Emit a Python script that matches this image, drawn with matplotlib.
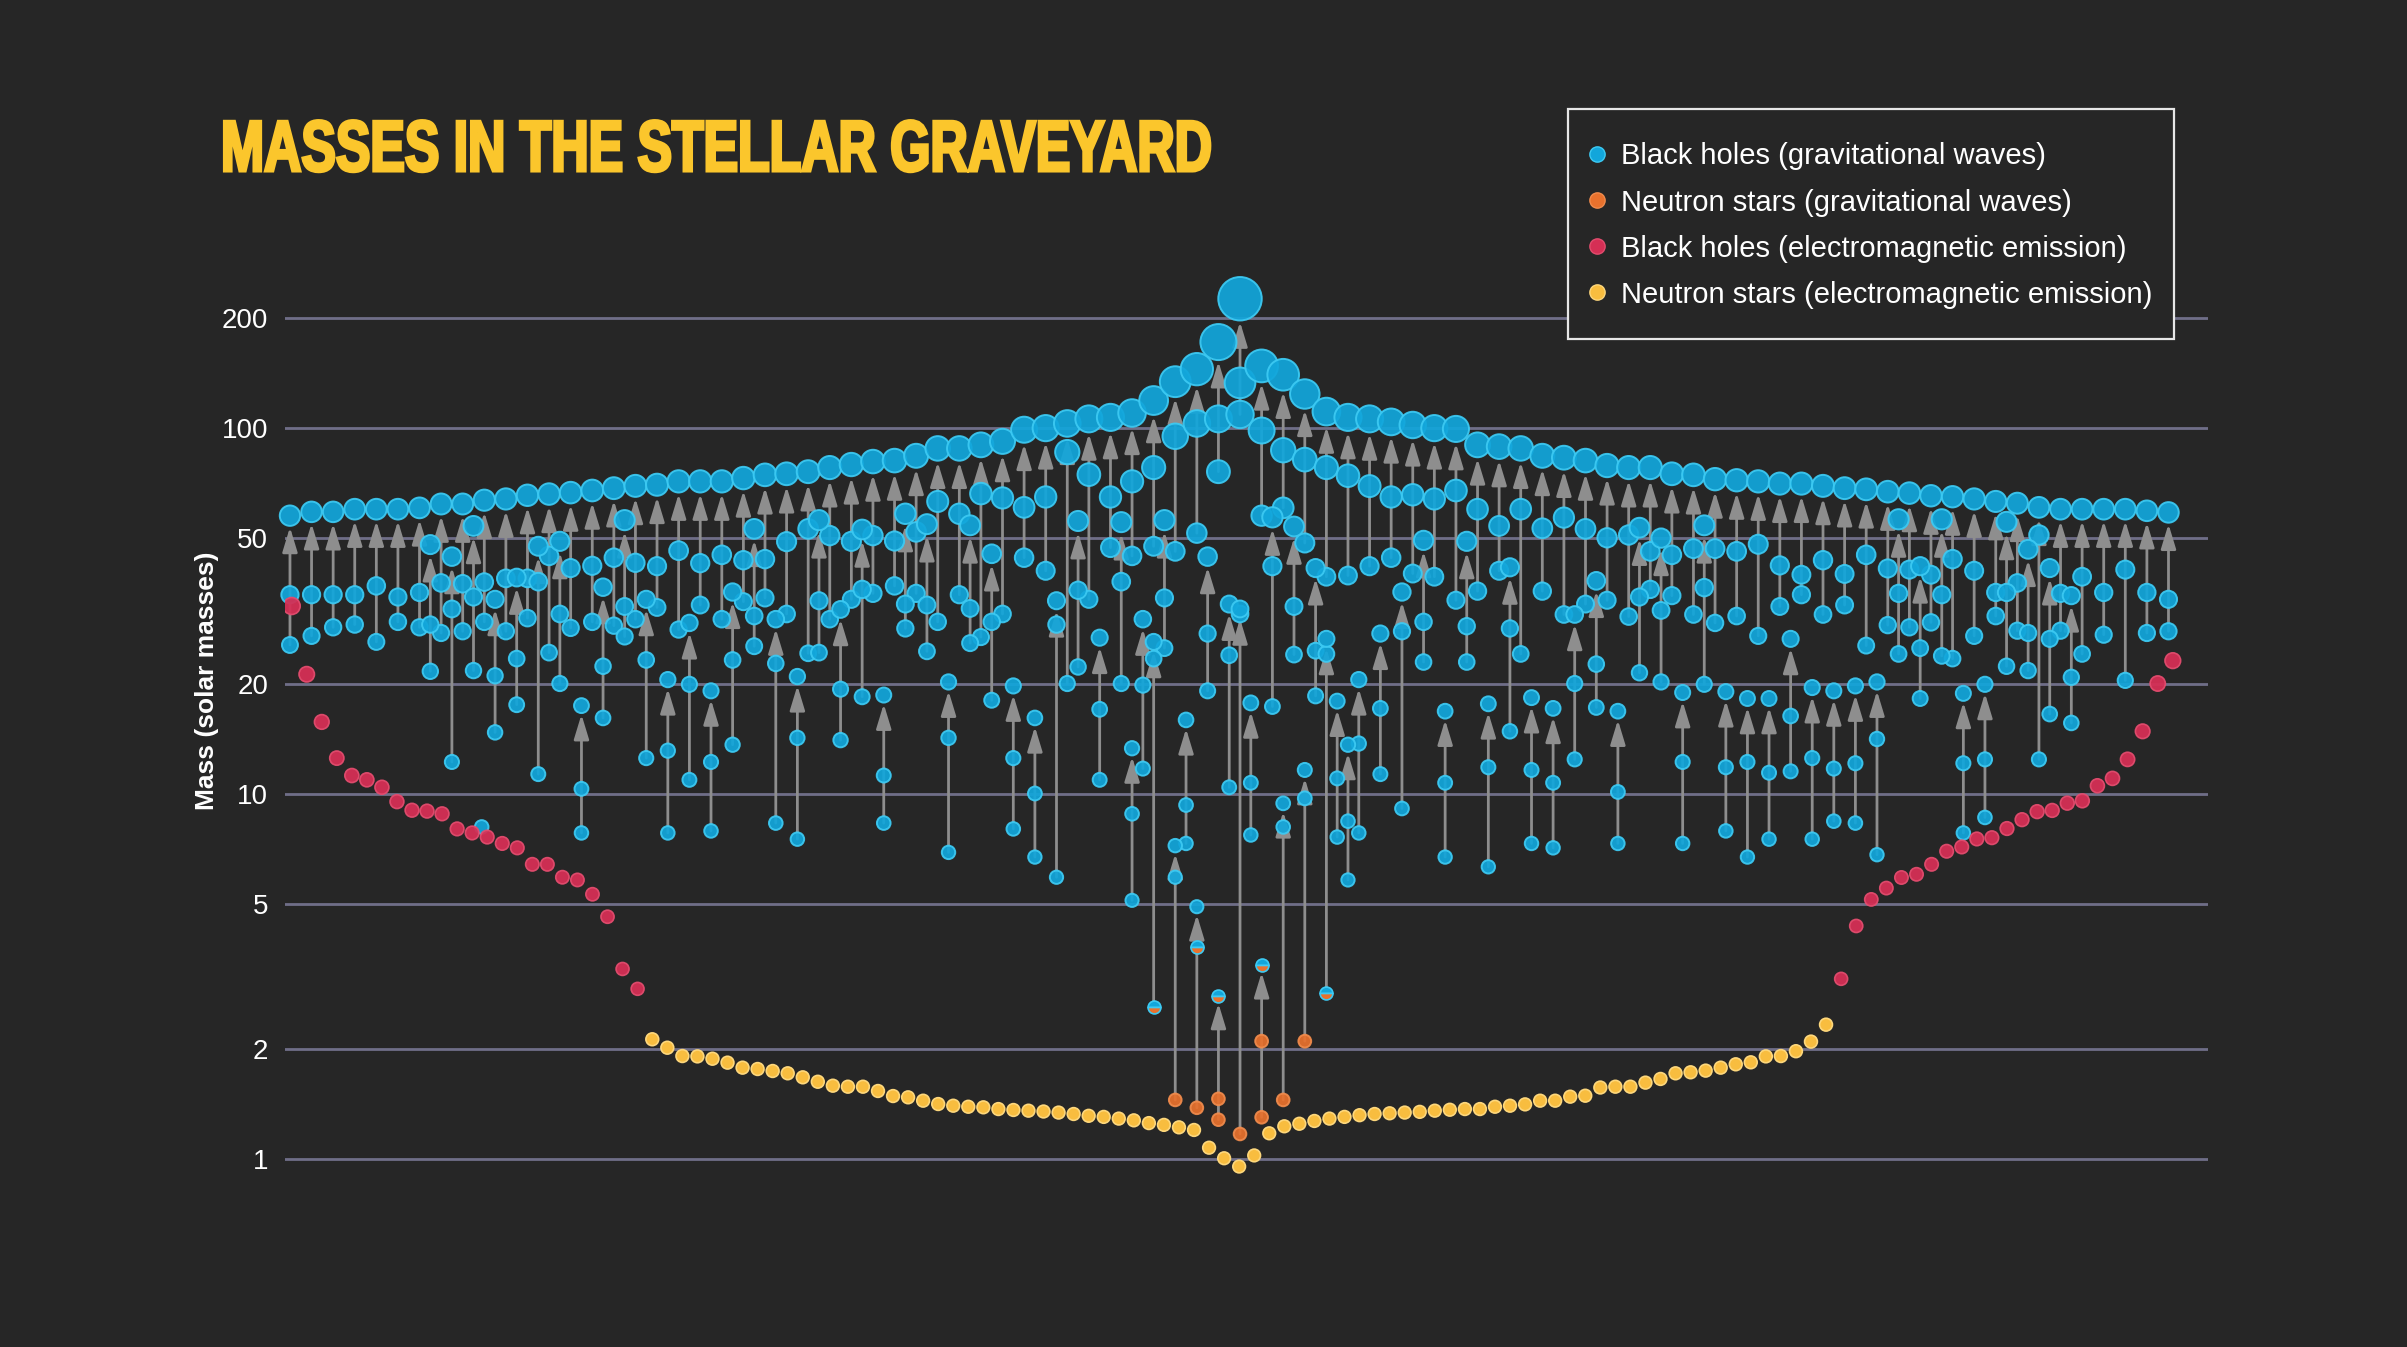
import numpy as np
import matplotlib
matplotlib.use('Agg')
import matplotlib.pyplot as plt
from matplotlib.lines import Line2D
from matplotlib.patches import Rectangle
from matplotlib.patheffects import AbstractPathEffect
from matplotlib.transforms import Affine2D

plt.rcParams['font.family'] = ['Liberation Sans', 'DejaVu Sans']

# remnant / component masses of the mergers on the upper row (one per column)
top_mf = [57.6, 59, 59, 60, 60, 60, 60.5, 62, 62, 63.5,
          64, 65.5, 66, 66.6, 67.5, 68.5, 69.5, 70, 71.5, 71.5,
          71.5, 73, 74.5, 75, 76, 78, 79.5, 81, 81.5, 84,
          88, 88, 90, 92, 99, 100, 103, 106, 107, 110,
          119, 134, 145, 172, 226, 148, 140, 124, 111, 107,
          106, 104, 102, 100, 99.5, 90, 89, 88, 84, 83,
          81.5, 79, 78, 78, 75, 74.5, 72.5, 72, 71.5, 70.5,
          70.5, 69.5, 68.5, 68, 67, 66.4, 65.3, 64.9, 64, 63,
          62.3, 60.7, 60, 60, 60, 60, 59.4, 58.8]
top_m1 = [35, 35, 35, 35, 37, 34.5, 35.5, 37.7, 37.5, 37.9,
          38.8, 38.8, 44.7, 41.4, 42, 44.2, 42.8, 41.9, 46.2, 42.7,
          45, 43.5, 43.8, 48.9, 53, 50.8, 49, 50.8, 49.1, 52,
          63, 58.3, 66.2, 64.4, 60.7, 64.8, 86, 74.6, 64.8, 71.5,
          78, 95, 103, 106, 133, 98.5, 87, 82, 78, 74.1,
          69.4, 64.8, 65.7, 64, 67.5, 60, 54, 60, 53.2, 56.9,
          53, 50.1, 51, 46, 45, 46.8, 46.8, 46, 48.1, 42.1,
          39.7, 43.5, 39.9, 45, 41.3, 41, 39.7, 43.8, 40.7, 35.5,
          37.7, 51, 35.3, 39.2, 35.5, 41, 35.5, 34]
top_m2 = [25.5, 27, 28.5, 29, 26, 29.5, 28.5, 27.5, 27.8, 29.5,
          27.8, 30.2, 24.3, 28.4, 29.5, 28.8, 30, 32.3, 28.1, 32.8,
          30, 33.5, 34.3, 31, 24.2, 30, 34, 35.3, 37, 35.3,
          29.5, 35, 26.8, 31, 44.2, 40.7, 20, 34, 47.1, 44.7,
          47.5, 46, 51.6, 76, 109, 57.6, 60.5, 48.5, 39.2, 39.5,
          41.9, 44.2, 40, 39.2, 33.8, 35.8, 40.7, 24.1, 35.8, 30.9,
          33, 33.8, 30.5, 36.2, 34.8, 30.9, 29.3, 30.6, 27, 32.5,
          35, 30.9, 32.8, 25.4, 28.9, 28.5, 29.4, 23.4, 27, 30.6,
          27.9, 12.4, 27.9, 24.1, 27.2, 20.4, 27.5, 27.8]

# mergers sitting between the columns (6.5 ... 82.5)
half_mf = [48, 44.5, 54, 34, 39, 47.5, 49, 17.4, 36.7, 56,
           34, 20.5, 29.3, 19.1, 35.6, 53, 30, 20.9, 56, 31.9,
           52.8, 18.6, 58.3, 54.6, 20.2, 54.2, 45.3, 19.7, 16.1, 33.7,
           55.7, 26.7, 55.3, 30, 56, 15.9, 44.5, 33, 17.7, 57,
           53.8, 41.4, 17.9, 20.5, 27.4, 35.6, 49.3, 16.8, 49, 17.6,
           41.6, 18.3, 17.1, 30.9, 38.2, 16.8, 53.4, 50, 18.9, 54.2,
           19, 18.2, 18.2, 26.5, 19.5, 19.1, 19.7, 20.2, 56.3, 41.9,
           56.3, 18.8, 19.9, 55.4, 46.6, 41.4, 34.8]
half_m1 = [29, 32, 34.5, 21, 23.4, 38, 31, 10.3, 22.3, 32.5,
           23.2, 13.1, 19.9, 12.2, 23.2, 30.6, 22.7, 14.2, 33.7, 19.3,
           36.2, 11.2, 33, 32.8, 14.2, 32.1, 29.5, 12.5, 10, 29,
           36, 17, 38, 19.8, 34.3, 9.3, 27.4, 23.9, 10.7, 41.9,
           32.5, 24.6, 11, 13.7, 17.1, 27.8, 29.5, 10.7, 28.7, 11.8,
           28.3, 11.6, 10.7, 20, 22.6, 10.1, 34.5, 31.7, 12.2, 36.6,
           11.8, 12.2, 11.4, 16.3, 12.5, 11.7, 12.1, 14.1, 35.3, 25,
           35, 12.1, 12.4, 35.5, 27.5, 26.5, 20.8]
half_m2 = [21.6, 12.2, 21.7, 14.7, 17.5, 11.3, 20, 7.8, 16.1, 26.9,
           12.5, 7.8, 10.9, 7.9, 13.6, 25.3, 8.3, 7.5, 24.3, 14,
           18.4, 8.3, 28.3, 24.5, 6.9, 25.8, 18, 8, 6.7, 5.9,
           22.2, 10.9, 20, 11.7, 25, 7.3, 19.1, 10.4, 7.7, 17.3,
           24, 18.5, 7.6, 7.8, 11.3, 9.1, 22.9, 6.7, 22.9, 6.3,
           14.8, 7.3, 7.1, 12.4, 17.2, 7.3, 21.4, 20.2, 7.3, 19.9,
           7.9, 6.7, 7.5, 11.5, 7.5, 8.4, 8.3, 6.8, 24.1, 18.2,
           23.8, 7.8, 8.6, 22.3, 21.7, 16.5, 15.6]

# low-mass mergers near the middle (b = black hole, n = neutron star, m = either)
ext_col = [39, 40, 41, 42, 43, 44, 45, 46, 47, 48, 49]
ext_mf = [13.3, 26, 7.2, 4.9, 2.8, 32, 3.4, 9.4, 11.6, 26.5, 13.6]
ext_m1 = [8.8, 23.4, 5.9, 3.8, 1.46, 31, 2.1, 8.1, 9.7, 24.1, 8.4]
ext_m2 = [5.1, 2.6, 1.45, 1.38, 1.28, 1.17, 1.3, 1.45, 2.1, 2.85, 5.8]
ext_kf = list('bbbbmbmbbbb')
ext_k1 = list('bbbmnbnbbbb')
ext_k2 = list('bmnnnnnnnmb')

lone_bh = [8.1]  # single GW black hole among the red ones

# electromagnetic observations
em_bh_left = [32.6, 21.2, 15.7, 12.5, 11.2, 10.9, 10.4, 9.5, 9.0, 8.95, 8.8, 8.0,
              7.8, 7.6, 7.3, 7.1, 6.4, 6.4, 5.9, 5.8, 5.3, 4.6, 3.31, 2.92]
em_bh_right = [3.11, 4.34, 5.13, 5.51, 5.89, 6.01, 6.40, 6.95, 7.14, 7.51, 7.57, 8.02,
               8.48, 8.92, 8.99, 9.41, 9.55, 10.5, 11.0, 12.4, 14.8, 20.0, 23.1]
em_ns = [2.125, 2.015, 1.912, 1.908, 1.880, 1.834, 1.777, 1.762, 1.740, 1.715,
         1.672, 1.626, 1.586, 1.576, 1.576, 1.534, 1.486, 1.474, 1.443, 1.413,
         1.398, 1.389, 1.384, 1.369, 1.361,
         1.355, 1.348, 1.339, 1.327, 1.312, 1.303, 1.289, 1.275, 1.253, 1.239,
         1.22, 1.20, 1.073, 1.004, 0.953, 1.022, 1.175, 1.228, 1.248, 1.27,
         1.289, 1.303, 1.317, 1.327, 1.333, 1.339, 1.345, 1.355, 1.363, 1.369,
         1.369, 1.389, 1.398, 1.41, 1.443, 1.443, 1.48, 1.489, 1.568, 1.576,
         1.576, 1.617, 1.655, 1.715, 1.726, 1.744, 1.777, 1.815, 1.838, 1.908,
         1.912, 1.971, 2.094, 2.33]

yticks = [1, 2, 5, 10, 20, 50, 100, 200]
legend_labels = ['Black holes (gravitational waves)',
                 'Neutron stars (gravitational waves)',
                 'Black holes (electromagnetic emission)',
                 'Neutron stars (electromagnetic emission)']

BG = '#262626'
GRID = '#6f6e88'
ARROW = '#8e8e8e'
TITLE = '#fbc62c'
FACE = {'b': '#12a6db', 'n': '#e8712d', 'r': '#d52f55', 'y': '#f8bd3f'}
EDGE = {'b': '#3dcaf3', 'n': '#f08b4c', 'r': '#e24c6e', 'y': '#fdd77c'}


def dpt(m):
    # marker diameter (points) grows with mass
    return 0.72 * (12.5 + 0.137 * np.asarray(m, dtype=float))


class Squeeze(AbstractPathEffect):
    # narrows glyphs horizontally and thickens them a bit (condensed heavy headline)
    def __init__(self, sx=1.0, lw=0.0, color=None):
        super().__init__()
        self.sx = sx
        self.lw = lw
        self.color = color

    def draw_path(self, renderer, gc, tpath, affine, rgbFace=None):
        tr = Affine2D().scale(self.sx, 1.0) + affine
        if self.lw > 0:
            gc0 = renderer.new_gc()
            gc0.copy_properties(gc)
            gc0.set_linewidth(self.lw)
            gc0.set_foreground(self.color)
            gc0.set_joinstyle('miter')
            renderer.draw_path(gc0, tpath, tr, rgbFace)
            gc0.restore()
        else:
            renderer.draw_path(gc, tpath, tr, rgbFace)


W, H = 2407, 1347
fig = plt.figure(figsize=(W / 100, H / 100), dpi=100, facecolor=BG)
ax = fig.add_axes([285 / W, 1 - 1194.3 / H, (2208 - 285) / W, (1194.3 - 253.8) / H])
ax.set_facecolor(BG)
ax.set_yscale('log')
ax.set_ylim(0.8, 300)
ax.set_xlim(-0.23, 88.83)
ax.set_yticks(yticks)
ax.set_yticklabels([str(t) for t in yticks])
ax.minorticks_off()
ax.set_xticks([])
ax.tick_params(axis='y', length=0, pad=12, labelsize=20, labelcolor='white')
for s in ax.spines.values():
    s.set_visible(False)
for t in yticks:
    ax.axhline(t, color=GRID, lw=2.0, zorder=1)

# all GW events
ev_x = list(range(len(top_mf))) + list(np.arange(6.5, 6.5 + len(half_mf))) + ext_col
ev_mf = top_mf + half_mf + ext_mf
ev_m1 = top_m1 + half_m1 + ext_m1
ev_m2 = top_m2 + half_m2 + ext_m2
n_bb = len(top_mf) + len(half_mf)
ev_kf = ['b'] * n_bb + ext_kf
ev_k1 = ['b'] * n_bb + ext_k1
ev_k2 = ['b'] * n_bb + ext_k2

for x, a, b, f in zip(ev_x, ev_m1, ev_m2, ev_mf):
    ax.annotate('', xy=(x, f), xytext=(x, min(a, b)), zorder=2,
                arrowprops=dict(arrowstyle='-|>,head_length=1.25,head_width=0.38',
                                mutation_scale=12, lw=2, color=ARROW,
                                shrinkA=0, shrinkB=float(dpt(f)) / 2 + 1))

pts = {'b': [], 'n': [], 'm': []}
for x, a, b, f, ka, kb, kf in zip(ev_x, ev_m1, ev_m2, ev_mf, ev_k1, ev_k2, ev_kf):
    pts[ka].append((x, a))
    pts[kb].append((x, b))
for x, f, kf in zip(ev_x, ev_mf, ev_kf):
    pts[kf].append((x, f))
pts['b'].append((8.88, lone_bh[0]))

for k in ['b', 'n']:
    xs = [p[0] for p in pts[k]]
    ms = [p[1] for p in pts[k]]
    ax.scatter(xs, ms, s=dpt(ms) ** 2, c=FACE[k], edgecolors=EDGE[k],
               linewidths=1.4, alpha=0.93, zorder=3, clip_on=False)
for x, m in pts['m']:
    ax.plot([x], [m], 'o', ms=float(dpt(m)), fillstyle='top',
            mfc=FACE['b'], mfcalt=FACE['n'], mec=EDGE['b'], mew=1.2, zorder=3.5)

# electromagnetic series
xl = np.linspace(0.08, 16.10, len(em_bh_left))
xr = np.linspace(71.84, 87.20, len(em_bh_right))
xn = np.linspace(16.78, 71.14, len(em_ns))
ax.scatter(xl, em_bh_left, s=dpt(em_bh_left) ** 2, c=FACE['r'], edgecolors=EDGE['r'],
           linewidths=1.2, alpha=0.95, zorder=3)
ax.scatter(xr, em_bh_right, s=dpt(em_bh_right) ** 2, c=FACE['r'], edgecolors=EDGE['r'],
           linewidths=1.2, alpha=0.95, zorder=3)
ax.scatter(xn, em_ns, s=dpt(em_ns) ** 2, c=FACE['y'], edgecolors=EDGE['y'],
           linewidths=1.2, zorder=3)

# axis label
fig.text(207 / W, 1 - 681 / H, 'Mass (solar masses)', rotation=90, ha='center',
         va='center', color='white', fontsize=19, fontweight='bold')

# title
title = fig.text(221 / W, 1 - 171 / H, 'MASSES IN THE STELLAR GRAVEYARD', color=TITLE,
                 fontsize=52, fontweight='bold', ha='left', va='baseline')

# legend box drawn by hand
fig.patches.append(Rectangle((1568 / W, 1 - 339 / H), (2174 - 1568) / W, (339 - 109) / H,
                             transform=fig.transFigure, facecolor=BG, edgecolor='#e6e6e6',
                             lw=1.6, zorder=5))
leg_y = [153.5, 199.6, 245.6, 291.7]
for lab, k, yy in zip(legend_labels, ['b', 'n', 'r', 'y'], leg_y):
    fig.lines.append(Line2D([1597 / W], [1 - yy / H], transform=fig.transFigure, marker='o',
                            ls='', ms=11, mfc=FACE[k], mec=EDGE[k], mew=1, zorder=6))
    fig.text(1621 / W, 1 - yy / H, lab, color='white', fontsize=21, ha='left',
             va='center_baseline', zorder=6)

fig.canvas.draw()
tw = title.get_window_extent().width
title.set_path_effects([Squeeze(992 / tw, lw=2.2, color=TITLE)])

fig.savefig('out.png', dpi=100, facecolor=BG)
